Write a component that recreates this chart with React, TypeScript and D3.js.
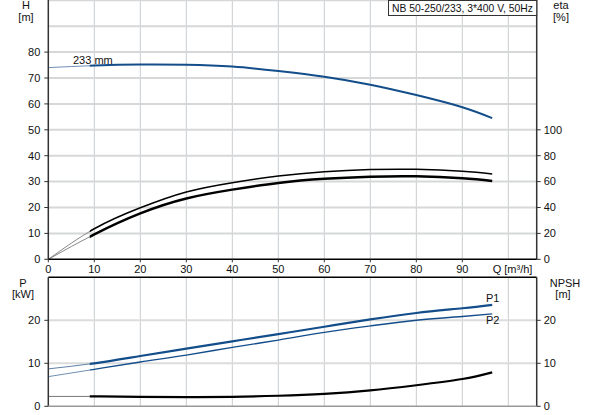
import React from "react";
import * as d3 from "d3";

const flowQ = [0, 10, 20, 30, 40, 50, 60, 70, 80, 90, 96.5];
const headH = [74.0, 74.8, 75.2, 75.1, 74.4, 72.7, 70.5, 67.4, 63.4, 58.7, 54.5];
const etaUpper = [0, 23.6, 39.8, 52.0, 59.2, 64.3, 67.6, 69.3, 69.5, 68.0, 65.9];
const etaLower = [0, 19.3, 35.5, 47.0, 53.8, 59.0, 62.2, 63.8, 64.1, 62.6, 60.5];
const powerP1 = [8.7, 10.0, 11.7, 13.4, 15.1, 16.8, 18.5, 20.2, 21.7, 22.8, 23.6];
const powerP2 = [6.9, 8.6, 10.3, 11.9, 13.7, 15.4, 17.2, 18.7, 20.0, 20.9, 21.5];
const npshValues = [2.3, 2.3, 2.2, 2.15, 2.2, 2.45, 2.9, 3.7, 4.9, 6.35, 7.9];

const qTicks = [0, 10, 20, 30, 40, 50, 60, 70, 80, 90];
const qGrid = [10, 20, 30, 40, 50, 60, 70, 80, 90, 100];
const hTicks = [0, 10, 20, 30, 40, 50, 60, 70, 80];
const hGrid = [10, 20, 30, 40, 50, 60, 70, 80, 90, 100];
const etaTicks = [0, 20, 40, 60, 80, 100];
const pTicks = [0, 10, 20];
const pGrid = [10, 20];
const npshTicks = [0, 10, 20];

const titleText = "NB 50-250/233, 3*400 V, 50Hz";
const impellerLabel = "233 mm";
const thickStartQ = 9;

const FONT = "'Liberation Sans', Arial, sans-serif";
const BLUE = "#134d8a";

export default function App() {
  const x = d3.scaleLinear().domain([0, 106.17]).range([48.3, 536.7]);
  const yH = d3.scaleLinear().domain([0, 100]).range([259.3, 0.3]);
  const yEta = d3.scaleLinear().domain([0, 200]).range([259.3, 0.3]);
  const yP = d3.scaleLinear().domain([0, 30]).range([406.3, 277.3]);

  const mk = (vals: number[], y: d3.ScaleLinear<number, number>) =>
    d3
      .line<number>()
      .x((_, i) => x(flowQ[i]))
      .y((v) => y(v))
      .curve(d3.curveNatural)(vals) || "";

  const xL = x(0);
  const xR = x(106.17);
  const xThick = x(thickStartQ);

  const curve = (
    vals: number[],
    y: d3.ScaleLinear<number, number>,
    color: string,
    thinColor: string,
    w: number,
    key: string
  ) => (
    <g key={key}>
      <path d={mk(vals, y)} fill="none" stroke={thinColor} strokeWidth={1} clipPath="url(#thin)" />
      <path d={mk(vals, y)} fill="none" stroke={color} strokeWidth={w} clipPath="url(#thick)" />
    </g>
  );

  const txt = { fontFamily: FONT, fontSize: 11, fill: "#111" } as const;

  return (
    <svg
      width={593}
      height={415}
      style={{ position: "absolute", left: 0, top: 0, background: "#fff" }}
    >
      <defs>
        <clipPath id="thin">
          <rect x={xL} y={0} width={xThick - xL} height={415} />
        </clipPath>
        <clipPath id="thick">
          <rect x={xThick} y={0} width={xR - xThick} height={415} />
        </clipPath>
      </defs>
      <rect x={0} y={0} width={593} height={415} fill="#fff" />

      {/* top panel grid */}
      {qGrid.map((q) => (
        <line key={"tv" + q} x1={x(q)} x2={x(q)} y1={yH(100)} y2={yH(0)} stroke="#c9cccf" strokeWidth={1} />
      ))}
      {hGrid.map((h) => (
        <line key={"th" + h} x1={xL} x2={xR} y1={yH(h)} y2={yH(h)} stroke="#d6d7d8" strokeWidth={2} />
      ))}

      {/* bottom panel grid */}
      {qGrid.map((q) => (
        <line key={"bv" + q} x1={x(q)} x2={x(q)} y1={yP(30)} y2={yP(0)} stroke="#c9cccf" strokeWidth={1} />
      ))}
      {pGrid.map((p) => (
        <line key={"bh" + p} x1={xL} x2={xR} y1={yP(p)} y2={yP(p)} stroke="#dcdcdc" strokeWidth={2} />
      ))}

      {/* curves top */}
      {curve(headH, yH, BLUE, "#6f8fb3", 2, "H")}
      {curve(etaUpper, yEta, "#000", "#888", 1.5, "e1")}
      {curve(etaLower, yEta, "#000", "#888", 2.5, "e2")}

      {/* curves bottom */}
      {curve(powerP1, yP, BLUE, "#5d80a8", 2.2, "p1")}
      {curve(powerP2, yP, BLUE, "#6f8fb3", 1.4, "p2")}
      {curve(npshValues, yP, "#000", "#777", 2.2, "n")}

      {/* top panel axes */}
      <line x1={xL} x2={xL} y1={0} y2={yH(0)} stroke="#333" strokeWidth={1.5} />
      <line x1={xR} x2={xR} y1={0} y2={yH(0)} stroke="#333" strokeWidth={1.5} />
      <line x1={xL} x2={xR} y1={yH(0)} y2={yH(0)} stroke="#000" strokeWidth={1.5} />
      {hTicks.map((h) => (
        <g key={"hl" + h}>
          <line x1={xL - 4} x2={xL} y1={yH(h)} y2={yH(h)} stroke="#333" />
          <text {...txt} x={xL - 8} y={yH(h)} dy="0.35em" textAnchor="end">
            {h}
          </text>
        </g>
      ))}
      {etaTicks.map((e) => (
        <g key={"el" + e}>
          <line x1={xR} x2={xR + 4} y1={yEta(e)} y2={yEta(e)} stroke="#333" />
          <text {...txt} x={xR + 7} y={yEta(e)} dy="0.35em" textAnchor="start">
            {e}
          </text>
        </g>
      ))}
      {qTicks.map((q) => (
        <g key={"ql" + q}>
          <line x1={x(q)} x2={x(q)} y1={yH(0)} y2={yH(0) + 3} stroke="#333" />
          <text {...txt} x={x(q)} y={269} dy="0.35em" textAnchor="middle">
            {q}
          </text>
        </g>
      ))}
      <text {...txt} x={x(96.6)} y={269} dy="0.35em" textAnchor="start">
        Q [m³/h]
      </text>

      {/* bottom panel axes */}
      <line x1={xL} x2={xR} y1={yP(30)} y2={yP(30)} stroke="#000" strokeWidth={1.5} />
      <line x1={xL} x2={xL} y1={yP(30)} y2={yP(0)} stroke="#333" strokeWidth={1.5} />
      <line x1={xR} x2={xR} y1={yP(30)} y2={yP(0)} stroke="#333" strokeWidth={1.5} />
      <line x1={xL} x2={xR} y1={yP(0)} y2={yP(0)} stroke="#999" strokeWidth={1.5} />
      {pTicks.map((p) => (
        <g key={"pl" + p}>
          <line x1={xL - 4} x2={xL} y1={yP(p)} y2={yP(p)} stroke="#333" />
          <text {...txt} x={xL - 8} y={yP(p)} dy="0.35em" textAnchor="end">
            {p}
          </text>
        </g>
      ))}
      {npshTicks.map((p) => (
        <g key={"nl" + p}>
          <line x1={xR} x2={xR + 4} y1={yP(p)} y2={yP(p)} stroke="#333" />
          <text {...txt} x={xR + 7} y={yP(p)} dy="0.35em" textAnchor="start">
            {p}
          </text>
        </g>
      ))}

      {/* axis titles */}
      <text {...txt} x={26} y={5} dy="0.35em" textAnchor="middle">H</text>
      <text {...txt} x={26} y={17} dy="0.35em" textAnchor="middle">[m]</text>
      <text {...txt} x={561} y={5} dy="0.35em" textAnchor="middle">eta</text>
      <text {...txt} x={561} y={17} dy="0.35em" textAnchor="middle">[%]</text>
      <text {...txt} x={23} y={283} dy="0.35em" textAnchor="middle">P</text>
      <text {...txt} x={23} y={294.5} dy="0.35em" textAnchor="middle">[kW]</text>
      <text {...txt} x={565} y={283} dy="0.35em" textAnchor="middle">NPSH</text>
      <text {...txt} x={563} y={294.5} dy="0.35em" textAnchor="middle">[m]</text>

      {/* labels */}
      <text {...txt} x={73} y={60.5} dy="0.35em" textAnchor="start">{impellerLabel}</text>
      <text {...txt} x={486} y={298} dy="0.35em" textAnchor="start">P1</text>
      <text {...txt} x={486} y={320.5} dy="0.35em" textAnchor="start">P2</text>

      {/* title box */}
      <rect x={388.5} y={0.5} width={xR - 388.5} height={15} fill="#fff" stroke="#333" strokeWidth={1} />
      <text {...txt} fontSize={10.5} x={392} y={8} dy="0.35em" textAnchor="start" textLength={141} lengthAdjust="spacingAndGlyphs">{titleText}</text>
    </svg>
  );
}
